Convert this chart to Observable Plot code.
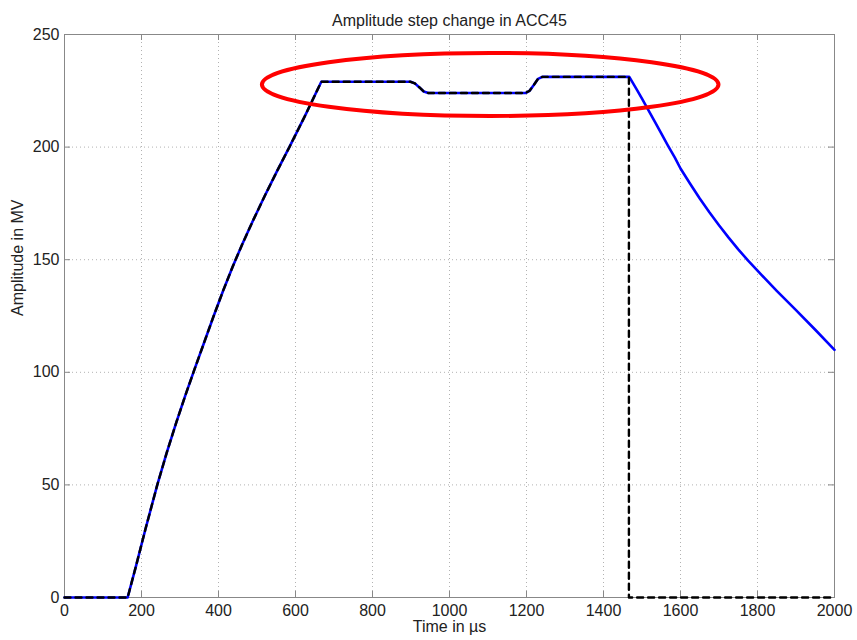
<!DOCTYPE html>
<html>
<head>
<meta charset="utf-8">
<script src="https://cdn.jsdelivr.net/npm/d3@7"></script>
<script src="https://cdn.jsdelivr.net/npm/@observablehq/plot@0.6"></script>
<style>
  html, body { margin: 0; padding: 0; background: #fff; }
  #chart { width: 857px; height: 640px; }
</style>
</head>
<body>
<div id="chart"></div>
<script>
// Measured amplitude (blue) — time in µs, amplitude in MV
const timeMeasured = [0, 164, 185, 210, 241, 265, 290, 313, 336, 362, 387, 412, 437, 462, 490, 520, 552, 585, 625, 667,
  899, 910, 922, 933, 945, 1197, 1208, 1219, 1230, 1241, 1467,
  1485, 1500, 1518, 1535, 1550, 1567, 1585, 1600, 1625, 1650, 1675, 1700, 1725, 1750, 1775, 1800, 1850, 1900, 1950, 2000];
const ampMeasured = [0, 0, 13.5, 30.2, 50, 64, 77.5, 89.3, 100.5, 112.9, 124.8, 136.2, 147, 157, 167.5, 178.3, 189.3, 200.3, 214, 229,
  229, 228.3, 226.5, 224.7, 224, 224, 225, 227.6, 230.3, 231.2, 231.2,
  226, 221.5, 216, 210.8, 206.1, 200.8, 195.4, 190.5, 183.7, 177.2, 171.1, 165.3, 159.8, 154.6, 149.7, 145.1, 136.2, 127.6, 118.9, 110];

// Reference / set-point amplitude (black dashed)
const timeSetpoint = [0, 164, 185, 210, 241, 265, 290, 313, 336, 362, 387, 412, 437, 462, 490, 520, 552, 585, 625, 667,
  899, 910, 922, 933, 945, 1197, 1208, 1219, 1230, 1241, 1466, 1466, 2000];
const ampSetpoint = [0, 0, 13.5, 30.2, 50, 64, 77.5, 89.3, 100.5, 112.9, 124.8, 136.2, 147, 157, 167.5, 178.3, 189.3, 200.3, 214, 229,
  229, 228.3, 226.5, 224.7, 224, 224, 225, 227.6, 230.3, 231.2, 231.2, 0, 0];

// Highlight ellipse annotation (data units)
const highlightCenter = [1107, 227.6];
const highlightRadius = [593, 14.0];

const xTicks = [0, 200, 400, 600, 800, 1000, 1200, 1400, 1600, 1800, 2000];
const yTicks = [0, 50, 100, 150, 200, 250];

const title = "Amplitude step change in ACC45";
const xLabel = "Time in µs";
const yLabel = "Amplitude in MV";

const measured = timeMeasured.map((t, i) => ({t, a: ampMeasured[i]}));
const setpoint = timeSetpoint.map((t, i) => ({t, a: ampSetpoint[i]}));

const W = 857, H = 640;
const mL = 64, mR = 23, mT = 34, mB = 43;
const plotW = W - mL - mR, plotH = H - mT - mB;
const tickLen = 6;
const axisGray = "#888";

const ellipseMark = (index, scales) => {
  const x = scales.x, y = scales.y;
  const cx = x(highlightCenter[0]), cy = y(highlightCenter[1]);
  const rx = Math.abs(x(highlightCenter[0] + highlightRadius[0]) - cx);
  const ry = Math.abs(y(highlightCenter[1] + highlightRadius[1]) - cy);
  const e = document.createElementNS("http://www.w3.org/2000/svg", "ellipse");
  e.setAttribute("cx", cx); e.setAttribute("cy", cy);
  e.setAttribute("rx", rx); e.setAttribute("ry", ry);
  e.setAttribute("fill", "none");
  e.setAttribute("stroke", "#ff0000");
  e.setAttribute("stroke-width", 4);
  return e;
};

const chart = Plot.plot({
  width: W, height: H,
  marginLeft: mL, marginRight: mR, marginTop: mT, marginBottom: mB,
  style: {fontFamily: "'Liberation Sans', Arial, sans-serif", fontSize: "16px", color: "#222", background: "#fff"},
  x: {domain: [0, 2000], ticks: xTicks},
  y: {domain: [0, 250], ticks: yTicks},
  marks: [
    Plot.gridX(xTicks, {stroke: "#aaa", strokeOpacity: 0.9, strokeDasharray: "1,3"}),
    Plot.gridY(yTicks, {stroke: "#aaa", strokeOpacity: 0.9, strokeDasharray: "1,3"}),
    Plot.frame({stroke: axisGray}),
    // inward ticks: bottom, top, left, right
    Plot.tickX(xTicks, {x: d => d, stroke: axisGray, insetTop: plotH - tickLen}),
    Plot.tickX(xTicks, {x: d => d, stroke: axisGray, insetBottom: plotH - tickLen}),
    Plot.tickY(yTicks, {y: d => d, stroke: axisGray, insetRight: plotW - tickLen}),
    Plot.tickY(yTicks, {y: d => d, stroke: axisGray, insetLeft: plotW - tickLen}),
    Plot.line(measured, {x: "t", y: "a", stroke: "#0000ff", strokeWidth: 2.6}),
    Plot.line(setpoint, {x: "t", y: "a", stroke: "#000", strokeWidth: 2.4, strokeDasharray: "6,5"}),
    ellipseMark,
    Plot.axisX({ticks: xTicks, tickSize: 0, tickPadding: 7, label: null, fill: "#222", tickFormat: d3.format("d")}),
    Plot.axisY({ticks: yTicks, tickSize: 0, tickPadding: 5, label: null, fill: "#222", tickFormat: d3.format("d")}),
    Plot.text([title], {frameAnchor: "top", dy: -20, fontSize: 16, fill: "#222"}),
    Plot.text([xLabel], {frameAnchor: "bottom", dy: 34, fontSize: 16, fill: "#222"}),
    Plot.text([yLabel], {frameAnchor: "left", dx: -47, rotate: -90, fontSize: 16, fill: "#222"})
  ]
});
document.getElementById("chart").appendChild(chart);
</script>
</body>
</html>
